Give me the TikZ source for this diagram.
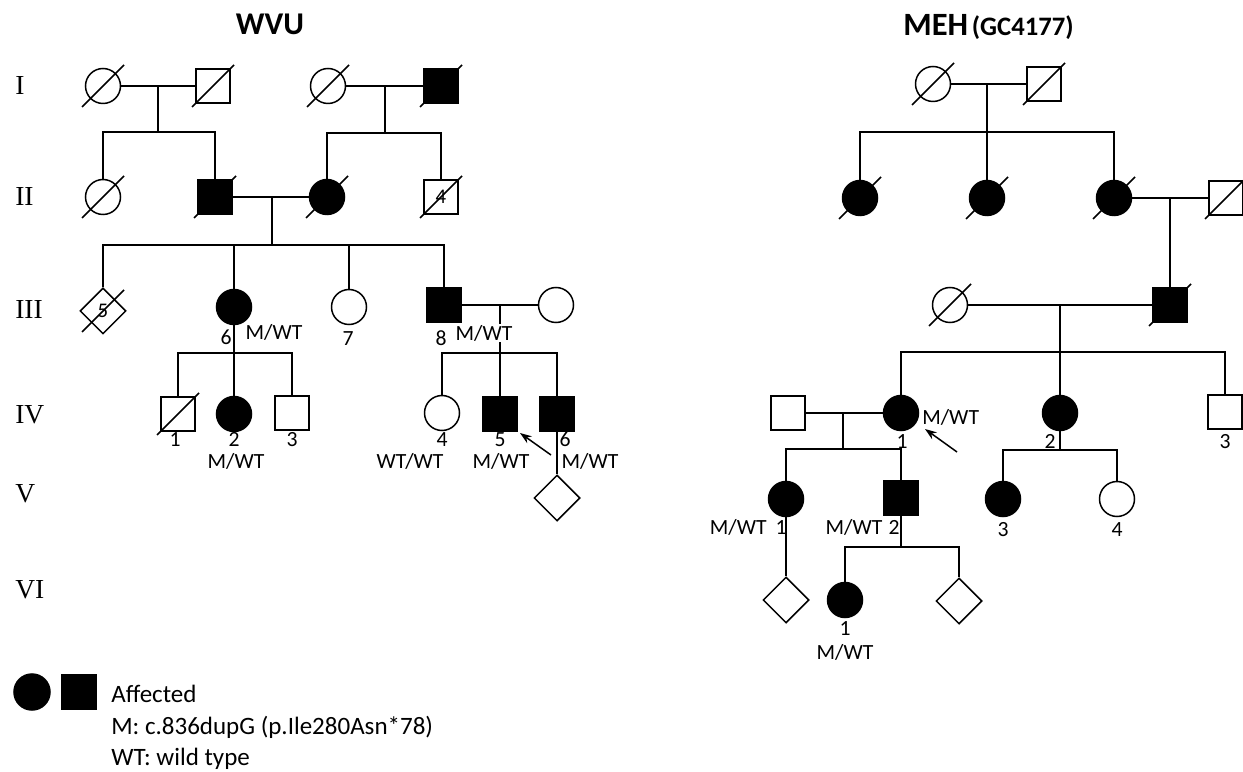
\documentclass[tikz,border=0pt]{standalone}
\usepackage{fontspec}
\setmainfont{Carlito}
\newfontfamily\romfont{Liberation Serif}
\usetikzlibrary{shapes.geometric,arrows.meta}
\newcommand\deceased[1]{\draw[pl] ([shift={(-21,21)}]#1.center) -- ([shift={(21,-21)}]#1.center);}
\begin{document}
\begin{tikzpicture}[x=0.6pt,y=-0.6pt,
  pl/.style={line width=0.9pt},
  fem/.style={circle,draw,pl,minimum size=21pt,inner sep=0pt,fill=white},
  mal/.style={rectangle,draw,pl,minimum size=20.4pt,inner sep=0pt,fill=white,font=\fontsize{12.5}{12.5}\selectfont},
  unk/.style={diamond,draw,pl,minimum width=27.6pt,minimum height=27.6pt,inner sep=0pt,fill=white,font=\fontsize{12.5}{12.5}\selectfont},
  aff/.style={fill=black},
  lab/.style={font=\fontsize{13}{13}\selectfont,inner sep=0pt,anchor=base},
  gen/.style={font=\romfont\fontsize{16.5}{16}\selectfont,anchor=west,inner sep=0pt},
  leg/.style={font=\fontsize{15}{15}\selectfont,anchor=base west,inner sep=0pt},
  arr/.style={pl,-{Stealth[length=7pt,width=5pt]}},
]
\fill[white] (0,0) rectangle (1243,772);
\useasboundingbox (0,0) rectangle (1243,772);

% titles
\node[anchor=base,inner sep=0pt,font=\fontsize{19}{19}\selectfont\bfseries] (t1) at (270,35) {WVU};
\node[anchor=base west,inner sep=0pt] (t2) at (903,36) {{\fontsize{19.5}{19}\selectfont\bfseries MEH} {\fontsize{16}{16}\selectfont\bfseries (GC4177)}};

% generation numerals
\node[gen] (gI) at (15,86) {I};
\node[gen] (gII) at (15,197) {II};
\node[gen] (gIII) at (15,309) {III};
\node[gen] (gIV) at (15,415) {IV};
\node[gen] (gV) at (15,494) {V};
\node[gen] (gVI) at (15,590) {VI};

% ===== WVU pedigree =====
\node[fem] (I1) at (103,86) {};
\node[mal] (I2) at (213,86) {};
\node[fem] (I3) at (328,86) {};
\node[mal,aff] (I4) at (441,86) {};
\node[fem] (II1) at (103,197) {};
\node[mal,aff] (II2) at (215,197) {};
\node[fem,aff] (II3) at (327,197) {};
\node[mal] (II4) at (441,197) {4};
\node[unk] (III5) at (103,311) {5};
\node[fem,aff] (III6) at (234,307) {};
\node[fem] (III7) at (349,307) {};
\node[mal,aff] (III8) at (444,305) {};
\node[fem] (III9) at (556,305) {};
\node[mal] (IV1) at (178,414) {};
\node[fem,aff] (IV2) at (234,414) {};
\node[mal] (IV3) at (292,413) {};
\node[fem] (IV4) at (442,413) {};
\node[mal,aff] (IV5) at (500,414) {};
\node[mal,aff] (IV6) at (557,414) {};
\node[unk] (V1) at (557,498) {};

\coordinate (m1) at (158,86); \coordinate (s1) at (158,132);
\draw[pl] (I1) -- (I2);
\draw[pl] (m1) -- (s1);
\draw[pl] (II1.north) |- (s1) -| (II2.north);
\coordinate (m2) at (385,86); \coordinate (s2) at (385,133);
\draw[pl] (I3) -- (I4);
\draw[pl] (m2) -- (s2);
\draw[pl] (II3.north) |- (s2) -| (II4.north);
\coordinate (m3) at (272,197); \coordinate (s3) at (272,245);
\draw[pl] (II2) -- (II3);
\draw[pl] (m3) -- (s3);
\draw[pl] (III5.north) |- (s3) -| (III8.north);
\draw[pl] (III6.north) -- (III6.north |- s3);
\draw[pl] (III7.north) -- (III7.north |- s3);
\draw[pl] (III8) -- (III9);
\coordinate (m4) at (500,305); \coordinate (s4) at (500,353);
\draw[pl] (m4) -- (s4);
\draw[pl] (IV4.north) |- (s4) -| (IV6.north);
\draw[pl] (IV5.north) -- (s4);
\coordinate (s5) at (234,353);
\draw[pl] (III6) -- (IV2);
\draw[pl] (IV1.north) |- (s5) -| (IV3.north);
\draw[pl] (IV6) -- (V1);

\deceased{I1} \deceased{I2} \deceased{I3} \deceased{I4}
\deceased{II1} \deceased{II2} \deceased{II3} \deceased{II4}
\deceased{III5} \deceased{IV1}

\node[lab] (l1) at (226,344.5) {6};
\node[lab] (l2) at (274,339.5) {M/WT};
\node[lab] (l3) at (348,345.5) {7};
\node[lab] (l4) at (441,345.5) {8};
\node[lab,fill=white,inner sep=0.6pt] (l5) at (484,340.5) {M/WT};
\node[lab] (l6) at (175,447) {1};
\node[lab] (l7) at (234,447) {2};
\node[lab] (l8) at (236,469) {M/WT};
\node[lab] (l9) at (292,447) {3};
\node[lab] (l10) at (442,447) {4};
\node[lab] (l11) at (410,469) {WT/WT};
\node[lab] (l12) at (500,447) {5};
\node[lab] (l13) at (501,469) {M/WT};
\node[lab] (l14) at (565,447) {6};
\node[lab] (l15) at (590,469) {M/WT};

\coordinate (a1s) at (551,455); \coordinate (a1e) at (520,433);
\draw[arr] (a1s) -- (a1e);

% ===== MEH pedigree =====
\node[fem] (R1) at (933,84) {};
\node[mal] (R2) at (1044,84) {};
\node[fem,aff] (R3) at (860,198) {};
\node[fem,aff] (R4) at (987,198) {};
\node[fem,aff] (R5) at (1114,198) {};
\node[mal] (R6) at (1226,198) {};
\node[fem] (R7) at (950,305) {};
\node[mal,aff] (R8) at (1170,305) {};
\node[mal] (RS) at (788,413) {};
\node[fem,aff] (RIV1) at (901,413) {};
\node[fem,aff] (RIV2) at (1060,413) {};
\node[mal] (RIV3) at (1225,412) {};
\node[fem,aff] (RV1) at (786,499) {};
\node[mal,aff] (RV2) at (901,498) {};
\node[fem,aff] (RV3) at (1003,499) {};
\node[fem] (RV4) at (1117,499) {};
\node[unk] (RVI1) at (786,600) {};
\node[fem,aff] (RVI2) at (845,600) {};
\node[unk] (RVI3) at (959,601) {};

\coordinate (rm1) at (987,84); \coordinate (rs1) at (987,132);
\draw[pl] (R1) -- (R2);
\draw[pl] (rm1) -- (rs1);
\draw[pl] (R3.north) |- (rs1) -| (R5.north);
\draw[pl] (R4.north) -- (rs1);
\coordinate (rm2) at (1170,198);
\draw[pl] (R5) -- (R6);
\draw[pl] (rm2) -- (R8.north);
\coordinate (rm3) at (1060,305); \coordinate (rs3) at (1060,352);
\draw[pl] (R7) -- (R8);
\draw[pl] (rm3) -- (rs3);
\draw[pl] (RIV1.north) |- (rs3) -| (RIV3.north);
\draw[pl] (RIV2.north) -- (rs3);
\coordinate (rm4) at (843,413); \coordinate (rs4) at (843,449);
\draw[pl] (RS) -- (RIV1);
\draw[pl] (rm4) -- (rs4);
\draw[pl] (RV1.north) |- (rs4) -| (RV2.north);
\coordinate (rs5) at (1060,450);
\draw[pl] (RIV2.south) -- (rs5);
\draw[pl] (RV3.north) |- (rs5) -| (RV4.north);
\draw[pl] (RV1) -- (RVI1);
\coordinate (rs6) at (901,547);
\draw[pl] (RV2.south) -- (rs6);
\draw[pl] (RVI2.north) |- (rs6) -| (RVI3.north);

\deceased{R1} \deceased{R2} \deceased{R3} \deceased{R4}
\deceased{R5} \deceased{R6} \deceased{R7} \deceased{R8}

\node[lab,anchor=base west] (r1) at (922,424.5) {M/WT};
\node[lab] (r2) at (902,448.5) {1};
\node[lab] (r3) at (1050,448.5) {2};
\node[lab] (r4) at (1225,448.5) {3};
\node[lab,anchor=base east] (r5) at (767,534.5) {M/WT};
\node[lab] (r6) at (781,534.5) {1};
\node[lab] (r7) at (854,534.5) {M/WT};
\node[lab] (r8) at (894,534.5) {2};
\node[lab] (r9) at (1003,536.5) {3};
\node[lab] (r10) at (1117,536.5) {4};
\node[lab] (r11) at (845,635.5) {1};
\node[lab] (r12) at (845,659.5) {M/WT};

\coordinate (a2s) at (957,452); \coordinate (a2e) at (925,429);
\draw[arr] (a2s) -- (a2e);

% ===== legend =====
\node[fem,aff,minimum size=21.6pt] (L1) at (32,692) {};
\node[mal,aff] (L2) at (79,692) {};
\node[leg] (L3) at (111,702) {Affected};
\node[leg] (L4) at (111,734) {M: c.836dupG (p.Ile280Asn*78)};
\node[leg] (L5) at (111,765) {WT: wild type};
\end{tikzpicture}
\end{document}
